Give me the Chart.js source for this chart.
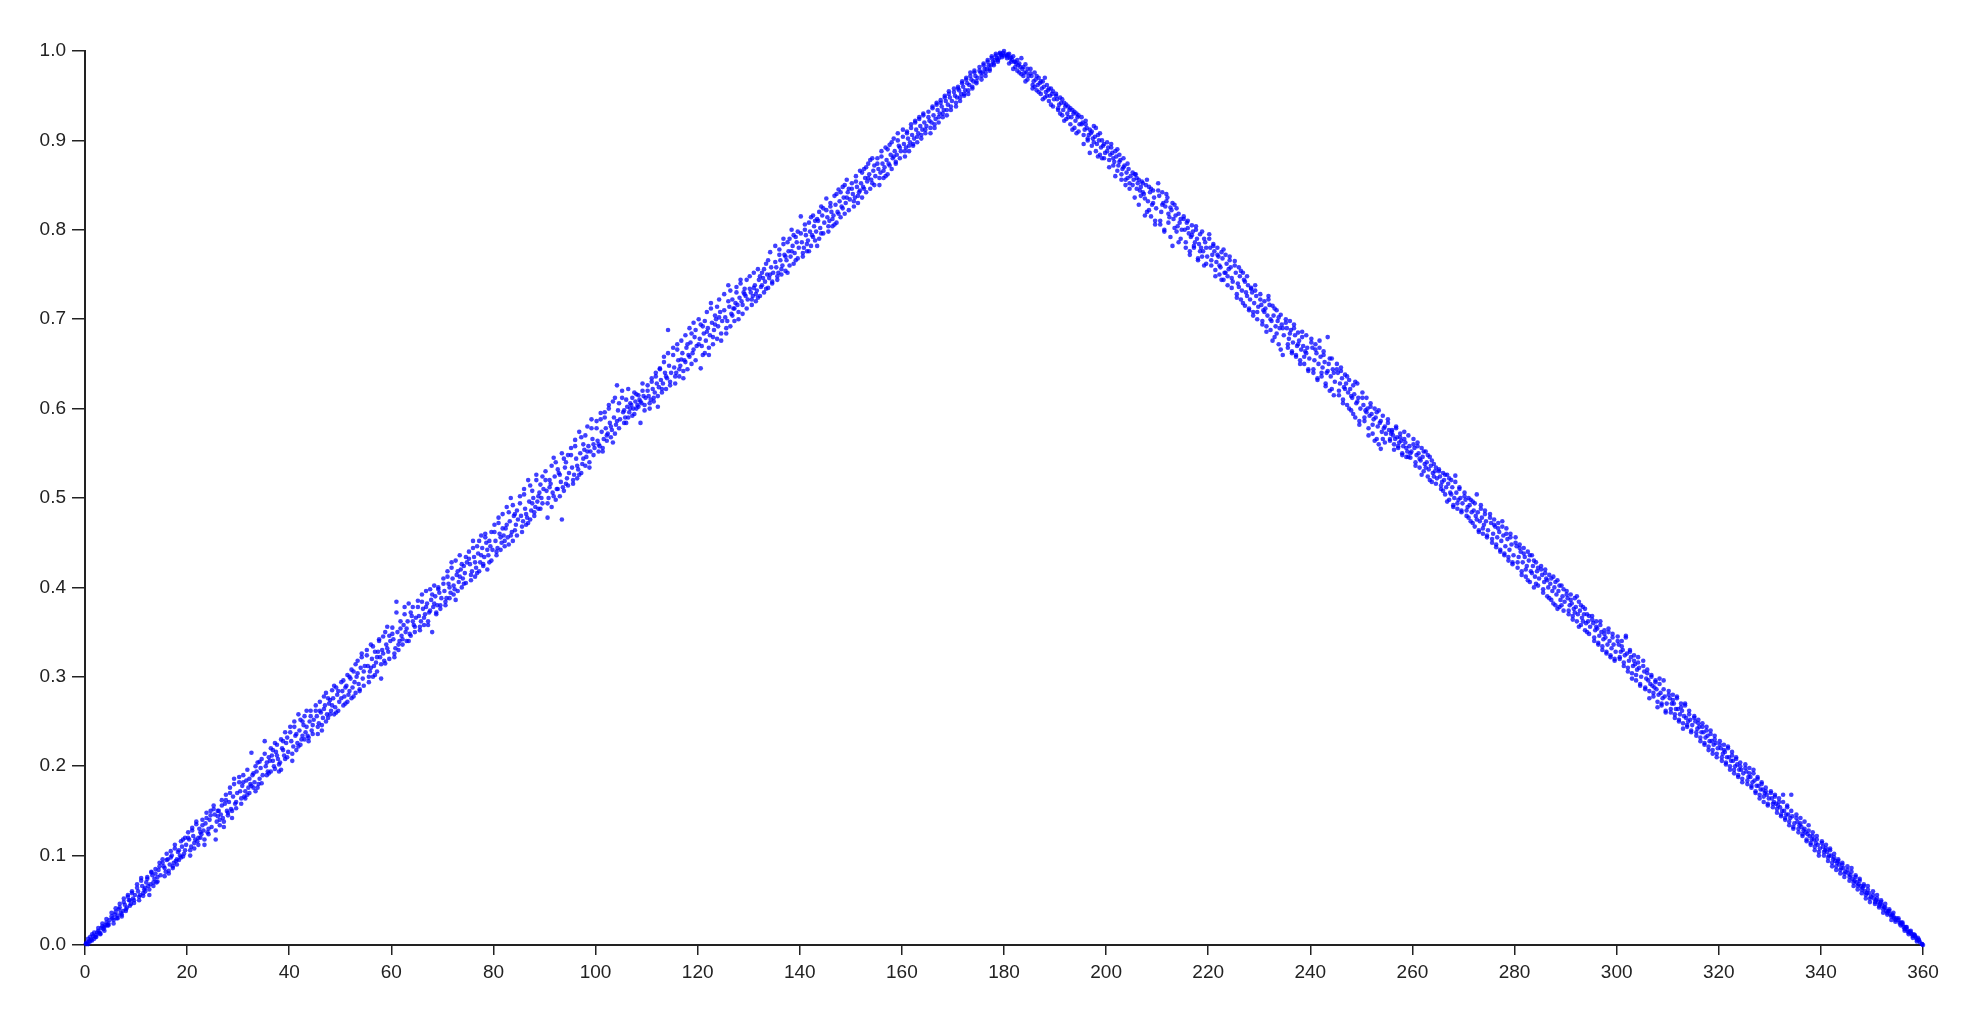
<!DOCTYPE html>
<html>
<head>
<meta charset="utf-8">
<script src="https://cdn.jsdelivr.net/npm/chart.js@4"></script>
<style>
  html, body { margin: 0; background: #fff; }
  #box { width: 1974px; height: 1014px; }
</style>
</head>
<body>
<div id="box"><canvas id="scatterChart"></canvas></div>
<script>
// Tick values
const xTicks = [0, 20, 40, 60, 80, 100, 120, 140, 160, 180, 200, 220, 240, 260, 280, 300, 320, 340, 360];
const yTicks = [0, 0.1, 0.2, 0.3, 0.4, 0.5, 0.6, 0.7, 0.8, 0.9, 1];

// Left side of the triangle
const risingX = [
  0.2,0.6,1.0,1.4,1.8,2.2,2.6,3.0,3.4,3.8,4.2,4.6,
  5.2,5.6,6.0,6.4,6.8,7.2,7.6,8.0,8.4,8.8,9.2,9.6,
  10.2,10.6,11.0,11.4,11.8,12.2,12.6,13.0,13.4,13.8,14.2,14.6,
  15.2,15.6,16.0,16.4,16.8,17.2,17.6,18.0,18.4,18.8,19.2,19.6,
  20.2,20.6,21.0,21.4,21.8,22.2,22.6,23.0,23.4,23.8,24.2,24.6,
  25.2,25.6,26.0,26.4,26.8,27.2,27.6,28.0,28.4,28.8,29.2,29.6,
  30.2,30.6,31.0,31.4,31.8,32.2,32.6,33.0,33.4,33.8,34.2,34.6,
  35.2,35.6,36.0,36.4,36.8,37.2,37.6,38.0,38.4,38.8,39.2,39.6,
  40.2,40.6,41.0,41.4,41.8,42.2,42.6,43.0,43.4,43.8,44.2,44.6,
  45.2,45.6,46.0,46.4,46.8,47.2,47.6,48.0,48.4,48.8,49.2,49.6,
  50.2,50.6,51.0,51.4,51.8,52.2,52.6,53.0,53.4,53.8,54.2,54.6,
  55.2,55.6,56.0,56.4,56.8,57.2,57.6,58.0,58.4,58.8,59.2,59.6,
  60.2,60.6,61.0,61.4,61.8,62.2,62.6,63.0,63.4,63.8,64.2,64.6,
  65.2,65.6,66.0,66.4,66.8,67.2,67.6,68.0,68.4,68.8,69.2,69.6,
  70.2,70.6,71.0,71.4,71.8,72.2,72.6,73.0,73.4,73.8,74.2,74.6,
  75.2,75.6,76.0,76.4,76.8,77.2,77.6,78.0,78.4,78.8,79.2,79.6,
  80.2,80.6,81.0,81.4,81.8,82.2,82.6,83.0,83.4,83.8,84.2,84.6,
  85.2,85.6,86.0,86.4,86.8,87.2,87.6,88.0,88.4,88.8,89.2,89.6,
  90.2,90.6,91.0,91.4,91.8,92.2,92.6,93.0,93.4,93.8,94.2,94.6,
  95.2,95.6,96.0,96.4,96.8,97.2,97.6,98.0,98.4,98.8,99.2,99.6,
  100.2,100.6,101.0,101.4,101.8,102.2,102.6,103.0,103.4,103.8,104.2,104.6,
  105.2,105.6,106.0,106.4,106.8,107.2,107.6,108.0,108.4,108.8,109.2,109.6,
  110.2,110.6,111.0,111.4,111.8,112.2,112.6,113.0,113.4,113.8,114.2,114.6,
  115.2,115.6,116.0,116.4,116.8,117.2,117.6,118.0,118.4,118.8,119.2,119.6,
  120.2,120.6,121.0,121.4,121.8,122.2,122.6,123.0,123.4,123.8,124.2,124.6,
  125.2,125.6,126.0,126.4,126.8,127.2,127.6,128.0,128.4,128.8,129.2,129.6,
  130.2,130.6,131.0,131.4,131.8,132.2,132.6,133.0,133.4,133.8,134.2,134.6,
  135.2,135.6,136.0,136.4,136.8,137.2,137.6,138.0,138.4,138.8,139.2,139.6,
  140.2,140.6,141.0,141.4,141.8,142.2,142.6,143.0,143.4,143.8,144.2,144.6,
  145.2,145.6,146.0,146.4,146.8,147.2,147.6,148.0,148.4,148.8,149.2,149.6,
  150.2,150.6,151.0,151.4,151.8,152.2,152.6,153.0,153.4,153.8,154.2,154.6,
  155.2,155.6,156.0,156.4,156.8,157.2,157.6,158.0,158.4,158.8,159.2,159.6,
  160.2,160.6,161.0,161.4,161.8,162.2,162.6,163.0,163.4,163.8,164.2,164.6,
  165.2,165.6,166.0,166.4,166.8,167.2,167.6,168.0,168.4,168.8,169.2,169.6,
  170.2,170.6,171.0,171.4,171.8,172.2,172.6,173.0,173.4,173.8,174.2,174.6,
  175.2,175.6,176.0,176.4,176.8,177.2,177.6,178.0,178.4,178.8,179.2,179.6
];
const risingOuterY = [
  .002,.001,.009,.005,.014,.009,.019,.012,.024,.016,.029,.022,
  .036,.024,.041,.030,.046,.034,.052,.038,.056,.044,.060,.047,
  .068,.050,.075,.055,.060,.076,.056,.081,.066,.085,.071,.092,
  .096,.077,.095,.083,.105,.086,.108,.090,.095,.116,.099,.120,
  .126,.100,.131,.108,.135,.112,.120,.140,.118,.148,.124,.145,
  .156,.118,.150,.134,.162,.138,.168,.145,.176,.150,.186,.153,
  .188,.158,.182,.164,.196,.170,.215,.176,.200,.176,.205,.181,
  .228,.190,.210,.194,.218,.197,.224,.202,.196,.228,.208,.232,
  .238,.206,.244,.218,.258,.224,.250,.230,.262,.232,.256,.236,
  .268,.236,.262,.246,.278,.250,.276,.258,.285,.258,.288,.262,
  .294,.268,.288,.272,.300,.276,.306,.282,.318,.286,.322,.290,
  .330,.294,.336,.300,.328,.306,.340,.298,.345,.315,.356,.320,
  .355,.322,.384,.330,.362,.336,.370,.340,.382,.346,.378,.350,
  .385,.352,.392,.358,.378,.362,.398,.350,.402,.372,.400,.376,
  .410,.380,.418,.388,.428,.392,.430,.396,.436,.400,.424,.405,
  .440,.408,.452,.412,.446,.418,.458,.424,.460,.420,.452,.430,
  .470,.436,.478,.442,.466,.446,.490,.448,.500,.452,.482,.458,
  .502,.462,.510,.470,.520,.476,.508,.484,.526,.488,.515,.494,
  .530,.478,.520,.490,.545,.498,.532,.502,.550,.508,.540,.514,
  .556,.516,.565,.522,.574,.528,.560,.536,.580,.540,.588,.548,
  .586,.552,.595,.556,.590,.564,.600,.568,.608,.572,.626,.578,
  .620,.584,.610,.590,.606,.592,.618,.600,.615,.584,.628,.604,
  .626,.600,.634,.608,.640,.614,.645,.618,.658,.622,.688,.626,
  .668,.628,.672,.636,.655,.634,.682,.644,.690,.650,.696,.654,
  .700,.645,.692,.662,.708,.660,.718,.672,.704,.678,.722,.684,
  .728,.684,.738,.692,.722,.698,.730,.700,.744,.706,.734,.712,
  .748,.716,.735,.720,.756,.726,.752,.730,.762,.735,.775,.742,
  .782,.744,.772,.750,.790,.754,.786,.760,.800,.762,.792,.768,
  .815,.770,.800,.776,.808,.782,.816,.788,.812,.790,.826,.796,
  .835,.798,.826,.804,.838,.808,.845,.814,.848,.818,.856,.822,
  .852,.826,.860,.830,.866,.836,.868,.842,.874,.846,.880,.850,
  .880,.850,.888,.858,.892,.862,.895,.868,.902,.874,.908,.880,
  .912,.882,.910,.888,.918,.894,.922,.898,.926,.902,.930,.908,
  .932,.908,.938,.914,.942,.920,.945,.926,.950,.928,.955,.934,
  .958,.938,.960,.944,.966,.950,.970,.952,.976,.958,.978,.964,
  .982,.968,.986,.972,.990,.978,.994,.984,.997,.988,.998,.995
];
const risingInnerY = [
  .001,.007,.004,.012,.007,.011,.016,.013,.021,.020,.025,.024,
  .032,.028,.037,.033,.042,.032,.048,.040,.054,.050,.058,.050,
  .064,.054,.072,.058,.064,.074,.062,.082,.070,.080,.076,.088,
  .092,.086,.102,.080,.098,.088,.112,.096,.106,.098,.118,.106,
  .120,.106,.128,.114,.138,.120,.126,.134,.112,.142,.130,.150,
  .152,.128,.144,.140,.156,.132,.162,.148,.170,.142,.180,.160,
  .182,.164,.190,.172,.168,.186,.178,.192,.172,.204,.186,.208,
  .214,.204,.192,.220,.206,.226,.212,.194,.230,.218,.238,.210,
  .244,.214,.250,.236,.222,.252,.234,.256,.244,.228,.262,.246,
  .262,.244,.272,.240,.264,.282,.254,.274,.268,.290,.260,.284,
  .276,.296,.270,.302,.284,.308,.278,.314,.304,.284,.326,.306,
  .324,.300,.310,.334,.302,.322,.342,.314,.326,.350,.332,.346,
  .348,.326,.372,.336,.354,.342,.378,.354,.340,.372,.362,.356,
  .378,.356,.384,.366,.396,.358,.374,.392,.382,.370,.398,.380,
  .404,.384,.412,.400,.422,.402,.386,.418,.412,.426,.404,.434,
  .432,.414,.444,.428,.416,.452,.436,.426,.456,.442,.428,.462,
  .462,.440,.472,.456,.482,.452,.470,.484,.458,.492,.464,.486,
  .494,.468,.504,.482,.472,.514,.494,.480,.520,.502,.488,.524,
  .520,.494,.512,.536,.502,.540,.510,.526,.476,.544,.516,.548,
  .548,.520,.558,.536,.526,.568,.544,.570,.552,.534,.578,.560,
  .578,.560,.588,.552,.596,.570,.604,.580,.562,.612,.586,.606,
  .612,.598,.584,.622,.600,.612,.594,.616,.602,.608,.620,.598,
  .620,.606,.630,.612,.636,.602,.644,.622,.652,.636,.662,.630,
  .660,.636,.666,.644,.676,.642,.652,.672,.658,.684,.666,.688,
  .672,.694,.660,.698,.686,.668,.712,.680,.694,.714,.702,.676,
  .710,.690,.720,.732,.704,.712,.736,.708,.740,.716,.728,.744,
  .734,.722,.752,.728,.724,.748,.738,.756,.734,.766,.750,.740,
  .764,.748,.778,.756,.784,.770,.752,.790,.776,.794,.766,.798,
  .796,.774,.806,.784,.776,.814,.792,.810,.782,.820,.796,.824,
  .822,.804,.830,.812,.806,.840,.818,.842,.824,.850,.836,.846,
  .846,.832,.854,.838,.844,.864,.846,.870,.858,.878,.852,.872,
  .874,.858,.882,.866,.860,.890,.872,.898,.882,.876,.900,.892,
  .904,.888,.908,.894,.914,.896,.920,.904,.924,.906,.928,.912,
  .926,.914,.936,.918,.940,.926,.942,.930,.948,.934,.952,.938,
  .954,.942,.958,.948,.964,.952,.968,.956,.972,.960,.976,.966,
  .978,.972,.984,.976,.988,.980,.992,.986,.995,.990,.997,.993
];
const risingMidX = [
  0.4,0.8,1.2,1.6,2.0,2.4,2.8,3.2,3.6,4.0,4.4,4.8,
  5.4,5.8,6.2,6.6,7.0,7.4,7.8,8.2,8.6,9.0,9.4,9.8,
  10.4,10.8,11.2,11.6,12.0,12.4,12.8,13.2,13.6,14.0,14.4,14.8,
  15.4,15.8,16.2,16.6,17.0,17.4,17.8,18.2,18.6,19.0,19.4,19.8,
  20.4,20.8,21.2,21.6,22.0,22.4,22.8,23.2,23.6,24.0,24.4,24.8,
  25.4,25.8,26.2,26.6,27.0,27.4,27.8,28.2,28.6,29.0,29.4,29.8,
  30.4,30.8,31.2,31.6,32.0,32.4,32.8,33.2,33.6,34.0,34.4,34.8,
  35.4,35.8,36.2,36.6,37.0,37.4,37.8,38.2,38.6,39.0,39.4,39.8,
  40.4,40.8,41.2,41.6,42.0,42.4,42.8,43.2,43.6,44.0,44.4,44.8,
  45.4,45.8,46.2,46.6,47.0,47.4,47.8,48.2,48.6,49.0,49.4,49.8,
  50.4,50.8,51.2,51.6,52.0,52.4,52.8,53.2,53.6,54.0,54.4,54.8,
  55.4,55.8,56.2,56.6,57.0,57.4,57.8,58.2,58.6,59.0,59.4,59.8,
  60.4,60.8,61.2,61.6,62.0,62.4,62.8,63.2,63.6,64.0,64.4,64.8,
  65.4,65.8,66.2,66.6,67.0,67.4,67.8,68.2,68.6,69.0,69.4,69.8,
  70.4,70.8,71.2,71.6,72.0,72.4,72.8,73.2,73.6,74.0,74.4,74.8,
  75.4,75.8,76.2,76.6,77.0,77.4,77.8,78.2,78.6,79.0,79.4,79.8,
  80.4,80.8,81.2,81.6,82.0,82.4,82.8,83.2,83.6,84.0,84.4,84.8,
  85.4,85.8,86.2,86.6,87.0,87.4,87.8,88.2,88.6,89.0,89.4,89.8,
  90.4,90.8,91.2,91.6,92.0,92.4,92.8,93.2,93.6,94.0,94.4,94.8,
  95.4,95.8,96.2,96.6,97.0,97.4,97.8,98.2,98.6,99.0,99.4,99.8,
  100.4,100.8,101.2,101.6,102.0,102.4,102.8,103.2,103.6,104.0,104.4,104.8,
  105.4,105.8,106.2,106.6,107.0,107.4,107.8,108.2,108.6,109.0,109.4,109.8,
  110.4,110.8,111.2,111.6,112.0,112.4,112.8,113.2,113.6,114.0,114.4,114.8,
  115.4,115.8,116.2,116.6,117.0,117.4,117.8,118.2,118.6,119.0,119.4,119.8,
  120.4,120.8,121.2,121.6,122.0,122.4,122.8,123.2,123.6,124.0,124.4,124.8,
  125.4,125.8,126.2,126.6,127.0,127.4,127.8,128.2,128.6,129.0,129.4,129.8,
  130.4,130.8,131.2,131.6,132.0,132.4,132.8,133.2,133.6,134.0,134.4,134.8,
  135.4,135.8,136.2,136.6,137.0,137.4,137.8,138.2,138.6,139.0,139.4,139.8,
  140.4,140.8,141.2,141.6,142.0,142.4,142.8,143.2,143.6,144.0,144.4,144.8,
  145.4,145.8,146.2,146.6,147.0,147.4,147.8,148.2,148.6,149.0,149.4,149.8,
  150.4,150.8,151.2,151.6,152.0,152.4,152.8,153.2,153.6,154.0,154.4,154.8,
  155.4,155.8,156.2,156.6,157.0,157.4,157.8,158.2,158.6,159.0,159.4,159.8,
  160.4,160.8,161.2,161.6,162.0,162.4,162.8,163.2,163.6,164.0,164.4,164.8,
  165.4,165.8,166.2,166.6,167.0,167.4,167.8,168.2,168.6,169.0,169.4,169.8,
  170.4,170.8,171.2,171.6,172.0,172.4,172.8,173.2,173.6,174.0,174.4,174.8,
  175.4,175.8,176.2,176.6,177.0,177.4,177.8,178.2,178.6,179.0,179.4,179.8
];
const risingMidY = [
  .003,.004,.006,.010,.009,.014,.014,.019,.018,.022,.022,.028,
  .030,.034,.030,.040,.036,.038,.045,.042,.050,.046,.052,.056,
  .060,.056,.066,.062,.070,.066,.068,.078,.074,.070,.084,.078,
  .088,.082,.096,.090,.100,.092,.094,.104,.100,.110,.102,.112,
  .118,.110,.122,.118,.116,.130,.124,.128,.136,.126,.140,.132,
  .146,.138,.150,.146,.142,.158,.150,.160,.152,.166,.158,.170,
  .172,.178,.166,.184,.176,.180,.190,.182,.194,.180,.198,.190,
  .200,.194,.206,.212,.200,.216,.208,.204,.220,.212,.226,.216,
  .228,.222,.234,.226,.240,.230,.246,.238,.234,.250,.240,.252,
  .256,.248,.260,.254,.268,.258,.270,.262,.276,.266,.280,.272,
  .284,.278,.290,.280,.298,.288,.294,.300,.292,.310,.298,.312,
  .312,.306,.320,.312,.316,.328,.322,.330,.318,.336,.328,.340,
  .342,.332,.350,.340,.346,.358,.350,.362,.348,.368,.358,.366,
  .368,.362,.376,.370,.382,.372,.386,.378,.390,.380,.394,.388,
  .396,.388,.404,.394,.410,.398,.414,.406,.420,.410,.416,.428,
  .426,.418,.434,.422,.438,.428,.444,.434,.450,.436,.446,.442,
  .452,.444,.460,.450,.458,.466,.456,.474,.462,.480,.470,.476,
  .480,.474,.488,.478,.496,.486,.500,.490,.496,.506,.500,.510,
  .508,.500,.516,.506,.524,.510,.528,.518,.512,.534,.522,.528,
  .534,.526,.544,.532,.550,.538,.554,.546,.558,.552,.566,.556,
  .564,.558,.574,.566,.578,.572,.584,.576,.590,.582,.598,.588,
  .596,.590,.602,.596,.604,.600,.608,.604,.610,.606,.614,.612,
  .614,.610,.622,.618,.628,.624,.632,.628,.640,.634,.648,.640,
  .646,.640,.654,.648,.662,.654,.668,.660,.674,.662,.680,.670,
  .678,.670,.684,.676,.690,.682,.696,.688,.700,.692,.708,.698,
  .702,.698,.714,.706,.712,.718,.716,.724,.720,.730,.726,.722,
  .730,.726,.738,.732,.744,.736,.746,.742,.750,.746,.758,.752,
  .758,.752,.766,.760,.772,.766,.776,.770,.782,.774,.786,.780,
  .786,.780,.794,.788,.798,.794,.804,.798,.810,.802,.816,.808,
  .814,.810,.820,.816,.828,.820,.832,.826,.836,.830,.842,.834,
  .840,.836,.848,.842,.852,.848,.858,.854,.862,.856,.866,.860,
  .868,.864,.874,.870,.878,.874,.884,.880,.888,.884,.894,.888,
  .896,.892,.902,.898,.906,.902,.912,.908,.916,.912,.920,.916,
  .922,.920,.928,.924,.934,.930,.938,.934,.944,.940,.948,.944,
  .950,.948,.956,.952,.960,.956,.964,.962,.968,.966,.972,.970,
  .976,.976,.980,.980,.984,.984,.988,.990,.992,.992,.996,.998
];

// Right side of the triangle
const fallingX = [
  180.0,180.6,181.0,181.4,181.8,182.2,182.6,183.0,183.4,183.8,184.2,184.6,
  185.2,185.6,186.0,186.4,186.8,187.2,187.6,188.0,188.4,188.8,189.2,189.6,
  190.2,190.6,191.0,191.4,191.8,192.2,192.6,193.0,193.4,193.8,194.2,194.6,
  195.2,195.6,196.0,196.4,196.8,197.2,197.6,198.0,198.4,198.8,199.2,199.6,
  200.2,200.6,201.0,201.4,201.8,202.2,202.6,203.0,203.4,203.8,204.2,204.6,
  205.2,205.6,206.0,206.4,206.8,207.2,207.6,208.0,208.4,208.8,209.2,209.6,
  210.2,210.6,211.0,211.4,211.8,212.2,212.6,213.0,213.4,213.8,214.2,214.6,
  215.2,215.6,216.0,216.4,216.8,217.2,217.6,218.0,218.4,218.8,219.2,219.6,
  220.2,220.6,221.0,221.4,221.8,222.2,222.6,223.0,223.4,223.8,224.2,224.6,
  225.2,225.6,226.0,226.4,226.8,227.2,227.6,228.0,228.4,228.8,229.2,229.6,
  230.2,230.6,231.0,231.4,231.8,232.2,232.6,233.0,233.4,233.8,234.2,234.6,
  235.2,235.6,236.0,236.4,236.8,237.2,237.6,238.0,238.4,238.8,239.2,239.6,
  240.2,240.6,241.0,241.4,241.8,242.2,242.6,243.0,243.4,243.8,244.2,244.6,
  245.2,245.6,246.0,246.4,246.8,247.2,247.6,248.0,248.4,248.8,249.2,249.6,
  250.2,250.6,251.0,251.4,251.8,252.2,252.6,253.0,253.4,253.8,254.2,254.6,
  255.2,255.6,256.0,256.4,256.8,257.2,257.6,258.0,258.4,258.8,259.2,259.6,
  260.2,260.6,261.0,261.4,261.8,262.2,262.6,263.0,263.4,263.8,264.2,264.6,
  265.2,265.6,266.0,266.4,266.8,267.2,267.6,268.0,268.4,268.8,269.2,269.6,
  270.2,270.6,271.0,271.4,271.8,272.2,272.6,273.0,273.4,273.8,274.2,274.6,
  275.2,275.6,276.0,276.4,276.8,277.2,277.6,278.0,278.4,278.8,279.2,279.6,
  280.2,280.6,281.0,281.4,281.8,282.2,282.6,283.0,283.4,283.8,284.2,284.6,
  285.2,285.6,286.0,286.4,286.8,287.2,287.6,288.0,288.4,288.8,289.2,289.6,
  290.2,290.6,291.0,291.4,291.8,292.2,292.6,293.0,293.4,293.8,294.2,294.6,
  295.2,295.6,296.0,296.4,296.8,297.2,297.6,298.0,298.4,298.8,299.2,299.6,
  300.2,300.6,301.0,301.4,301.8,302.2,302.6,303.0,303.4,303.8,304.2,304.6,
  305.2,305.6,306.0,306.4,306.8,307.2,307.6,308.0,308.4,308.8,309.2,309.6,
  310.2,310.6,311.0,311.4,311.8,312.2,312.6,313.0,313.4,313.8,314.2,314.6,
  315.2,315.6,316.0,316.4,316.8,317.2,317.6,318.0,318.4,318.8,319.2,319.6,
  320.2,320.6,321.0,321.4,321.8,322.2,322.6,323.0,323.4,323.8,324.2,324.6,
  325.2,325.6,326.0,326.4,326.8,327.2,327.6,328.0,328.4,328.8,329.2,329.6,
  330.2,330.6,331.0,331.4,331.8,332.2,332.6,333.0,333.4,333.8,334.2,334.6,
  335.2,335.6,336.0,336.4,336.8,337.2,337.6,338.0,338.4,338.8,339.2,339.6,
  340.2,340.6,341.0,341.4,341.8,342.2,342.6,343.0,343.4,343.8,344.2,344.6,
  345.2,345.6,346.0,346.4,346.8,347.2,347.6,348.0,348.4,348.8,349.2,349.6,
  350.2,350.6,351.0,351.4,351.8,352.2,352.6,353.0,353.4,353.8,354.2,354.6,
  355.2,355.6,356.0,356.4,356.8,357.2,357.6,358.0,358.4,358.8,359.2,359.8
];
const fallingOuterY = [
  1.000,.994,.997,.988,.994,.982,.990,.976,.992,.972,.985,.968,
  .980,.962,.976,.956,.970,.952,.966,.948,.962,.944,.958,.938,
  .952,.934,.948,.928,.942,.924,.938,.918,.934,.914,.930,.910,
  .926,.906,.918,.900,.912,.894,.916,.888,.906,.884,.900,.880,
  .898,.878,.892,.872,.888,.866,.876,.862,.880,.856,.858,.852,
  .850,.862,.846,.856,.838,.852,.835,.820,.848,.815,.844,.810,
  .852,.806,.842,.798,.832,.808,.825,.782,.828,.798,.818,.790,
  .815,.786,.810,.776,.805,.780,.800,.768,.795,.770,.790,.762,
  .795,.760,.784,.755,.780,.750,.775,.744,.772,.748,.770,.735,
  .765,.728,.758,.722,.752,.715,.748,.712,.735,.708,.738,.700,
  .722,.698,.720,.692,.726,.688,.715,.680,.710,.672,.705,.660,
  .700,.668,.698,.662,.690,.658,.685,.654,.680,.650,.682,.644,
  .678,.640,.672,.632,.668,.636,.664,.625,.680,.620,.656,.615,
  .650,.615,.642,.610,.638,.604,.632,.598,.626,.590,.628,.582,
  .618,.586,.612,.578,.606,.572,.600,.566,.598,.555,.592,.562,
  .588,.566,.576,.560,.578,.556,.572,.550,.574,.546,.570,.545,
  .566,.540,.562,.534,.556,.530,.552,.524,.546,.518,.538,.516,
  .530,.510,.528,.504,.526,.498,.520,.492,.525,.488,.512,.484,
  .506,.480,.500,.474,.496,.468,.504,.464,.492,.460,.486,.456,
  .482,.450,.476,.445,.472,.440,.468,.436,.466,.430,.460,.428,
  .456,.422,.448,.418,.444,.412,.440,.406,.436,.400,.428,.402,
  .424,.398,.420,.390,.414,.386,.412,.380,.408,.378,.402,.374,
  .396,.374,.392,.368,.388,.362,.384,.358,.378,.352,.370,.348,
  .368,.340,.362,.336,.358,.330,.352,.326,.350,.322,.348,.318,
  .345,.322,.340,.316,.346,.310,.330,.304,.324,.296,.322,.290,
  .318,.288,.304,.284,.300,.278,.296,.272,.292,.268,.296,.262,
  .284,.264,.280,.258,.276,.252,.270,.248,.268,.244,.262,.240,
  .256,.238,.252,.232,.248,.226,.244,.222,.240,.218,.234,.214,
  .228,.210,.224,.204,.220,.200,.216,.196,.210,.190,.204,.186,
  .202,.184,.198,.178,.192,.172,.188,.168,.182,.166,.176,.158,
  .172,.158,.168,.152,.164,.146,.160,.142,.154,.138,.168,.132,
  .146,.130,.142,.124,.138,.118,.134,.114,.126,.110,.122,.104,
  .116,.104,.112,.098,.108,.092,.102,.088,.096,.084,.092,.080,
  .088,.076,.086,.070,.078,.066,.074,.062,.068,.056,.066,.052,
  .060,.048,.056,.044,.050,.040,.046,.036,.040,.032,.036,.028,
  .030,.024,.025,.018,.020,.014,.016,.010,.011,.006,.006,.001
];
const fallingInnerY = [
  .995,.992,.986,.993,.980,.988,.978,.986,.974,.982,.966,.980,
  .975,.958,.960,.972,.954,.966,.946,.970,.950,.958,.940,.955,
  .950,.936,.930,.946,.922,.940,.926,.936,.912,.932,.908,.928,
  .918,.896,.922,.902,.886,.910,.898,.914,.882,.908,.880,.896,
  .888,.870,.896,.880,.860,.890,.884,.856,.870,.850,.874,.846,
  .864,.836,.858,.828,.848,.842,.816,.856,.822,.846,.830,.806,
  .844,.810,.828,.800,.840,.818,.792,.830,.802,.824,.786,.812,
  .812,.780,.802,.772,.794,.782,.804,.766,.776,.798,.760,.780,
  .790,.766,.782,.748,.772,.760,.744,.778,.752,.738,.766,.746,
  .760,.724,.736,.754,.718,.742,.726,.710,.734,.704,.732,.708,
  .728,.694,.708,.686,.722,.700,.676,.712,.684,.702,.666,.690,
  .696,.672,.684,.664,.694,.660,.672,.650,.686,.658,.662,.642,
  .674,.644,.666,.634,.676,.640,.660,.628,.642,.656,.622,.640,
  .644,.620,.646,.606,.622,.636,.600,.614,.594,.630,.608,.586,
  .612,.590,.596,.570,.602,.582,.564,.596,.560,.586,.566,.580,
  .584,.564,.574,.554,.580,.558,.568,.548,.566,.556,.546,.550,
  .560,.536,.558,.544,.526,.552,.534,.548,.520,.542,.524,.534,
  .532,.514,.508,.526,.496,.522,.504,.490,.518,.494,.510,.486,
  .502,.486,.478,.498,.472,.494,.476,.462,.488,.466,.482,.458,
  .478,.454,.470,.448,.466,.442,.474,.438,.460,.434,.456,.426,
  .450,.428,.444,.414,.438,.420,.408,.436,.416,.430,.404,.422,
  .420,.394,.416,.408,.388,.410,.382,.406,.376,.402,.380,.398,
  .392,.370,.386,.364,.372,.390,.356,.380,.362,.376,.350,.368,
  .364,.344,.356,.338,.362,.334,.348,.328,.354,.324,.344,.320,
  .340,.320,.334,.312,.344,.306,.328,.298,.318,.302,.316,.292,
  .312,.286,.308,.276,.302,.282,.294,.266,.298,.270,.286,.260,
  .280,.260,.274,.254,.278,.250,.266,.242,.270,.246,.258,.238,
  .254,.234,.248,.228,.244,.224,.240,.218,.236,.214,.230,.210,
  .224,.206,.218,.202,.222,.196,.212,.192,.208,.188,.200,.182,
  .198,.180,.192,.176,.196,.170,.186,.164,.180,.160,.172,.156,
  .170,.154,.166,.148,.160,.144,.168,.140,.156,.134,.150,.130,
  .142,.126,.136,.122,.130,.116,.128,.112,.122,.106,.118,.100,
  .114,.100,.108,.094,.106,.088,.098,.084,.094,.080,.090,.076,
  .084,.072,.082,.066,.076,.062,.072,.058,.066,.052,.062,.048,
  .056,.046,.052,.042,.048,.036,.042,.034,.038,.028,.032,.026,
  .028,.022,.023,.016,.018,.012,.014,.008,.010,.004,.005,.001
];
const fallingMidX = [
  180.4,180.8,181.2,181.6,182.0,182.4,182.8,183.2,183.6,184.0,184.4,184.8,
  185.4,185.8,186.2,186.6,187.0,187.4,187.8,188.2,188.6,189.0,189.4,189.8,
  190.4,190.8,191.2,191.6,192.0,192.4,192.8,193.2,193.6,194.0,194.4,194.8,
  195.4,195.8,196.2,196.6,197.0,197.4,197.8,198.2,198.6,199.0,199.4,199.8,
  200.4,200.8,201.2,201.6,202.0,202.4,202.8,203.2,203.6,204.0,204.4,204.8,
  205.4,205.8,206.2,206.6,207.0,207.4,207.8,208.2,208.6,209.0,209.4,209.8,
  210.4,210.8,211.2,211.6,212.0,212.4,212.8,213.2,213.6,214.0,214.4,214.8,
  215.4,215.8,216.2,216.6,217.0,217.4,217.8,218.2,218.6,219.0,219.4,219.8,
  220.4,220.8,221.2,221.6,222.0,222.4,222.8,223.2,223.6,224.0,224.4,224.8,
  225.4,225.8,226.2,226.6,227.0,227.4,227.8,228.2,228.6,229.0,229.4,229.8,
  230.4,230.8,231.2,231.6,232.0,232.4,232.8,233.2,233.6,234.0,234.4,234.8,
  235.4,235.8,236.2,236.6,237.0,237.4,237.8,238.2,238.6,239.0,239.4,239.8,
  240.4,240.8,241.2,241.6,242.0,242.4,242.8,243.2,243.6,244.0,244.4,244.8,
  245.4,245.8,246.2,246.6,247.0,247.4,247.8,248.2,248.6,249.0,249.4,249.8,
  250.4,250.8,251.2,251.6,252.0,252.4,252.8,253.2,253.6,254.0,254.4,254.8,
  255.4,255.8,256.2,256.6,257.0,257.4,257.8,258.2,258.6,259.0,259.4,259.8,
  260.4,260.8,261.2,261.6,262.0,262.4,262.8,263.2,263.6,264.0,264.4,264.8,
  265.4,265.8,266.2,266.6,267.0,267.4,267.8,268.2,268.6,269.0,269.4,269.8,
  270.4,270.8,271.2,271.6,272.0,272.4,272.8,273.2,273.6,274.0,274.4,274.8,
  275.4,275.8,276.2,276.6,277.0,277.4,277.8,278.2,278.6,279.0,279.4,279.8,
  280.4,280.8,281.2,281.6,282.0,282.4,282.8,283.2,283.6,284.0,284.4,284.8,
  285.4,285.8,286.2,286.6,287.0,287.4,287.8,288.2,288.6,289.0,289.4,289.8,
  290.4,290.8,291.2,291.6,292.0,292.4,292.8,293.2,293.6,294.0,294.4,294.8,
  295.4,295.8,296.2,296.6,297.0,297.4,297.8,298.2,298.6,299.0,299.4,299.8,
  300.4,300.8,301.2,301.6,302.0,302.4,302.8,303.2,303.6,304.0,304.4,304.8,
  305.4,305.8,306.2,306.6,307.0,307.4,307.8,308.2,308.6,309.0,309.4,309.8,
  310.4,310.8,311.2,311.6,312.0,312.4,312.8,313.2,313.6,314.0,314.4,314.8,
  315.4,315.8,316.2,316.6,317.0,317.4,317.8,318.2,318.6,319.0,319.4,319.8,
  320.4,320.8,321.2,321.6,322.0,322.4,322.8,323.2,323.6,324.0,324.4,324.8,
  325.4,325.8,326.2,326.6,327.0,327.4,327.8,328.2,328.6,329.0,329.4,329.8,
  330.4,330.8,331.2,331.6,332.0,332.4,332.8,333.2,333.6,334.0,334.4,334.8,
  335.4,335.8,336.2,336.6,337.0,337.4,337.8,338.2,338.6,339.0,339.4,339.8,
  340.4,340.8,341.2,341.6,342.0,342.4,342.8,343.2,343.6,344.0,344.4,344.8,
  345.4,345.8,346.2,346.6,347.0,347.4,347.8,348.2,348.6,349.0,349.4,349.8,
  350.4,350.8,351.2,351.6,352.0,352.4,352.8,353.2,353.6,354.0,354.4,354.8,
  355.4,355.8,356.2,356.6,357.0,357.4,357.8,358.2,358.6,359.0,359.4,360.0
];
const fallingMidY = [
  .996,.996,.992,.990,.988,.986,.984,.982,.980,.976,.976,.972,
  .972,.966,.968,.962,.964,.958,.960,.954,.956,.950,.952,.946,
  .946,.940,.942,.934,.938,.930,.934,.926,.930,.922,.926,.918,
  .920,.912,.914,.906,.908,.902,.904,.896,.900,.892,.894,.886,
  .892,.884,.886,.876,.882,.872,.878,.868,.872,.864,.868,.860,
  .856,.862,.852,.844,.854,.840,.850,.832,.842,.828,.836,.824,
  .838,.820,.830,.826,.836,.814,.822,.812,.816,.804,.808,.800,
  .800,.808,.796,.792,.798,.786,.790,.784,.780,.776,.786,.770,
  .780,.772,.776,.764,.770,.758,.768,.752,.762,.756,.758,.742,
  .752,.740,.748,.732,.744,.730,.738,.722,.730,.718,.726,.714,
  .716,.710,.712,.704,.716,.698,.704,.692,.698,.690,.694,.682,
  .690,.678,.688,.674,.682,.670,.676,.666,.670,.664,.668,.656,
  .668,.654,.662,.650,.658,.646,.652,.640,.650,.636,.644,.630,
  .640,.628,.634,.624,.628,.618,.622,.612,.616,.606,.612,.600,
  .604,.598,.600,.592,.594,.588,.590,.580,.584,.574,.578,.572,
  .576,.572,.570,.566,.568,.562,.564,.558,.562,.552,.558,.552,
  .556,.548,.550,.542,.546,.538,.540,.532,.536,.528,.530,.522,
  .524,.518,.520,.512,.516,.506,.512,.500,.506,.498,.500,.494,
  .498,.490,.492,.484,.486,.480,.484,.474,.478,.470,.474,.464,
  .472,.460,.468,.456,.462,.452,.458,.446,.454,.442,.448,.436,
  .446,.434,.440,.428,.434,.424,.430,.418,.424,.412,.418,.410,
  .414,.406,.410,.400,.404,.396,.400,.392,.396,.386,.390,.384,
  .388,.380,.382,.376,.378,.370,.374,.366,.370,.360,.362,.356,
  .360,.352,.354,.346,.350,.342,.344,.336,.340,.332,.336,.328,
  .336,.328,.330,.324,.326,.318,.322,.312,.314,.308,.310,.300,
  .306,.298,.296,.292,.290,.288,.286,.280,.282,.276,.278,.270,
  .276,.270,.270,.264,.264,.258,.262,.256,.254,.250,.252,.246,
  .250,.242,.244,.238,.238,.232,.234,.228,.228,.224,.226,.220,
  .220,.214,.216,.210,.210,.206,.206,.200,.202,.196,.196,.192,
  .194,.188,.188,.182,.184,.178,.178,.174,.174,.170,.168,.164,
  .164,.160,.158,.156,.154,.150,.150,.146,.146,.142,.144,.136,
  .138,.134,.132,.128,.126,.124,.122,.118,.118,.114,.112,.108,
  .110,.106,.104,.100,.100,.096,.094,.092,.090,.086,.086,.082,
  .080,.078,.074,.072,.070,.068,.066,.064,.060,.058,.058,.054,
  .052,.050,.048,.046,.044,.042,.038,.038,.034,.034,.030,.030,
  .025,.025,.020,.020,.015,.015,.012,.012,.008,.008,.003,.000
];

const points = [];
function addPoints(xs, ys) {
  xs.forEach((x, i) => points.push({ x: x, y: ys[i] }));
}
addPoints(risingX, risingOuterY);
addPoints(risingX, risingInnerY);
addPoints(risingMidX, risingMidY);
addPoints(fallingX, fallingOuterY);
addPoints(fallingX, fallingInnerY);
addPoints(fallingMidX, fallingMidY);

const axisColor = '#222222';
const tickFont = { family: '"Liberation Sans", Arial, sans-serif', size: 19 };

new Chart(document.getElementById('scatterChart'), {
  type: 'scatter',
  data: {
    datasets: [{
      data: points,
      backgroundColor: 'rgba(0, 0, 255, 0.75)',
      borderWidth: 0,
      pointRadius: 2.3,
      clip: false
    }]
  },
  options: {
    responsive: true,
    maintainAspectRatio: false,
    animation: false,
    layout: { padding: { top: 51, right: 51, left: 0, bottom: 0 } },
    plugins: { legend: { display: false }, tooltip: { enabled: false } },
    scales: {
      x: {
        type: 'linear',
        min: 0,
        max: 360,
        afterBuildTicks: axis => { axis.ticks = xTicks.map(v => ({ value: v })); },
        afterFit: axis => { axis.height = 69; },
        border: { color: axisColor, width: 2 },
        grid: { drawOnChartArea: false, color: axisColor, lineWidth: 1.5, tickLength: 10 },
        ticks: { color: axisColor, font: tickFont, padding: 6, autoSkip: false, maxRotation: 0 }
      },
      y: {
        min: 0,
        max: 1,
        afterBuildTicks: axis => { axis.ticks = yTicks.map(v => ({ value: v })); },
        afterFit: axis => { axis.width = 85; },
        border: { color: axisColor, width: 2 },
        grid: { drawOnChartArea: false, color: axisColor, lineWidth: 1.5, tickLength: 13 },
        ticks: {
          color: axisColor,
          font: tickFont,
          padding: 6,
          callback: value => value.toFixed(1)
        }
      }
    }
  }
});
</script>
</body>
</html>
